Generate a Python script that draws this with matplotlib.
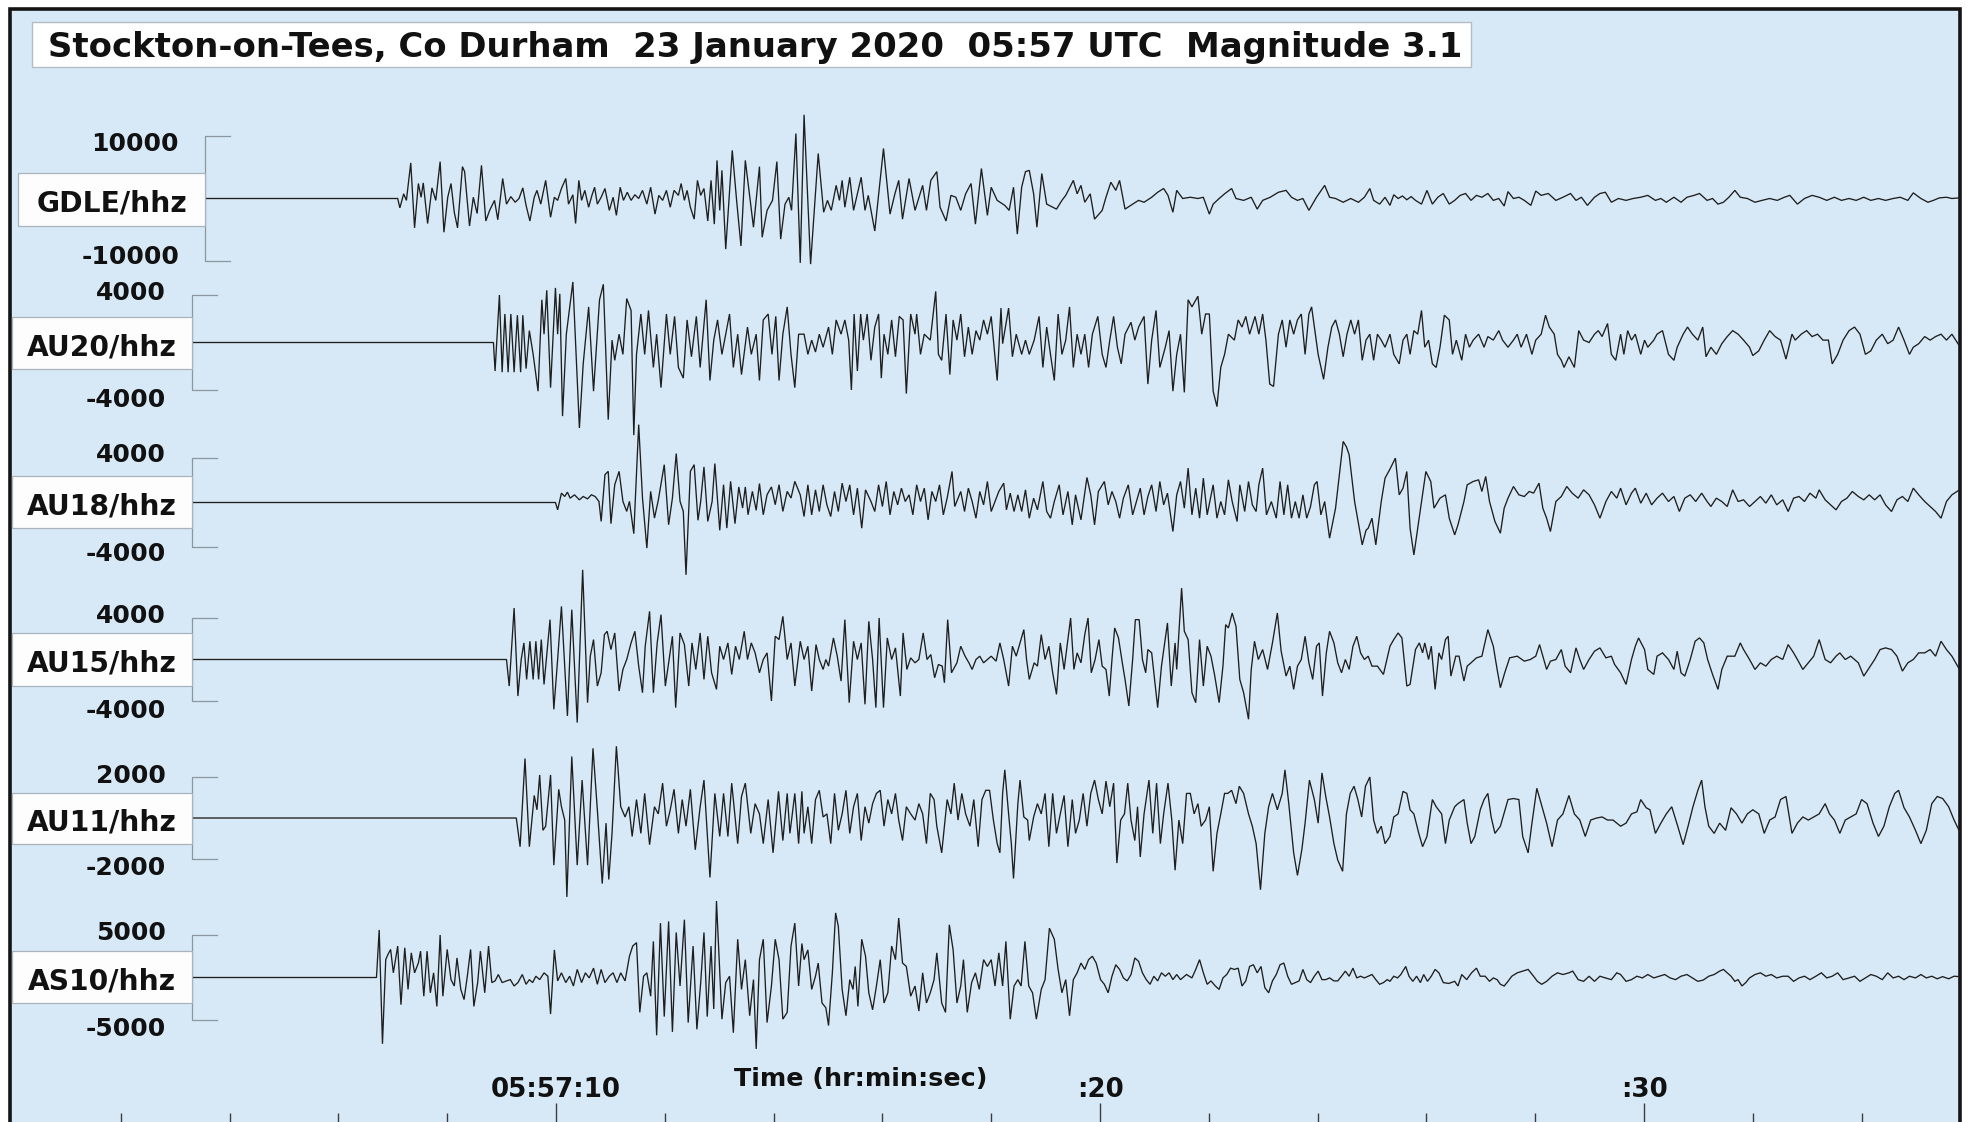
import matplotlib
matplotlib.use("Agg")
import matplotlib.pyplot as plt
from matplotlib.patches import Rectangle

plt.rcParams['font.family'] = ['DejaVu Sans']

# ---------------------------------------------------------------- data
TITLE = "Stockton-on-Tees, Co Durham  23 January 2020  05:57 UTC  Magnitude 3.1"
STATIONS = ["GDLE/hhz", "AU20/hhz", "AU18/hhz", "AU15/hhz", "AU11/hhz", "AS10/hhz"]
SCALES = [10000, 4000, 4000, 4000, 2000, 5000]
MAJOR_TICKS = [10, 20, 30]
MAJOR_TICK_LABELS = ["05:57:10", ":20", ":30"]
MINOR_TICKS = [2, 4, 6, 8, 12, 14, 16, 18, 22, 24, 26, 28, 32, 34]
X_LABEL = "Time (hr:min:sec)"

# (seconds after 05:57:00, counts)
GDLE = [(3.55, 0), (7.09, 0), (7.13, -1500), (7.20, 750), (7.25, -300), (7.33, 5700), (7.40, -4700),
        (7.47, 2400), (7.52, 200), (7.56, 2500), (7.64, -4000), (7.72, 1700), (7.79, -300), (7.87, 5900),
        (7.94, -5400), (8.01, 200), (8.07, 2400), (8.13, -2200), (8.19, -4700), (8.28, 5100), (8.32, 4300),
        (8.41, -4400), (8.48, 200), (8.55, -2400), (8.63, 5300), (8.71, -3600), (8.78, -1900), (8.87, -300),
        (8.93, -3400), (9.02, 3200), (9.09, -900), (9.17, 300), (9.25, -600), (9.32, 0), (9.39, 1700),
        (9.45, -1100), (9.52, -3600), (9.60, 200), (9.65, 1300), (9.72, -900), (9.81, 2900), (9.90, -3000),
        (9.97, 200), (10.03, -300), (10.10, 1600), (10.18, 3200), (10.23, -900), (10.31, 600), (10.36, -4000),
        (10.42, 2900), (10.47, -300), (10.53, 1300), (10.60, -1400), (10.66, 500), (10.71, 1800), (10.76, -900),
        (10.83, 200), (10.90, 1600), (10.98, -1900), (11.05, 200), (11.11, -2700), (11.18, 1800), (11.24, -300),
        (11.31, 1000), (11.38, -300), (11.45, 600), (11.52, 0), (11.59, 1300), (11.67, -900), (11.74, 1800),
        (11.82, -2500), (11.89, 500), (11.96, -300), (12.03, 1300), (12.10, -1400), (12.17, 1300), (12.25, 500),
        (12.30, 2400), (12.36, -300), (12.41, 1300), (12.47, -1400), (12.54, -3300), (12.60, 2900), (12.66, 500),
        (12.72, 1600), (12.79, -3600), (12.85, 2900), (12.91, -4100), (12.96, 6100), (13.01, -1900), (13.05, 4500),
        (13.12, -8100), (13.24, 7700), (13.32, -300), (13.40, -7600), (13.48, 6100), (13.57, -300), (13.63, -4600),
        (13.74, 5100), (13.79, -6200), (13.88, -1900), (13.98, -300), (14.06, 5900), (14.13, -6500), (14.21, -900),
        (14.28, 200), (14.33, -1900), (14.41, 10400), (14.49, -10300), (14.56, 13400), (14.68, -10500),
        (14.82, 7200), (14.92, -2200), (14.99, -300), (15.06, -1900), (15.15, 2100), (15.21, -300), (15.26, 2900),
        (15.31, -1400), (15.40, 3400), (15.47, -1900), (15.61, 3400), (15.68, -1900), (15.74, 500), (15.86, -5200),
        (16.02, 8000), (16.14, -2500), (16.23, 750), (16.30, 2900), (16.37, -3300), (16.49, 3200), (16.60, -1900),
        (16.74, 2100), (16.81, -1900), (16.89, 2900), (17.00, 4300), (17.06, -1400), (17.17, -3600), (17.26, 500),
        (17.35, 200), (17.44, -1900), (17.53, 750), (17.63, 2400), (17.71, -4100), (17.82, 4800), (17.93, -2700),
        (18.00, 1800), (18.11, -300), (18.25, -1100), (18.33, -1900), (18.41, 1800), (18.48, -5700), (18.56, 1800),
        (18.63, 4300), (18.70, 4500), (18.78, 750), (18.84, -4600), (18.93, 4000), (19.02, -900), (19.13, -1400),
        (19.20, -1700), (19.30, -300), (19.37, 500), (19.51, 2900), (19.58, 750), (19.65, 2100), (19.72, -600),
        (19.82, 750), (19.90, -3300), (20.04, -1900), (20.11, 200), (20.20, 2600), (20.29, 1300), (20.36, 2900),
        (20.46, -1700), (20.60, -900), (20.71, -300), (20.81, -600), (20.95, 200), (21.06, 1000), (21.17, 1600),
        (21.25, 500), (21.34, -2200), (21.41, 1300), (21.52, 0), (21.66, 200), (21.80, 0), (21.90, 200),
        (22.01, -2500), (22.08, -900), (22.19, 0), (22.29, 750), (22.42, 1600), (22.50, 0), (22.64, -300),
        (22.78, 200), (22.89, -1700), (22.99, -300), (23.13, 200), (23.28, 1000), (23.42, 1300), (23.52, 200),
        (23.63, -300), (23.73, 0), (23.84, -1900), (23.98, 200), (24.13, 2100), (24.22, 200), (24.33, 0),
        (24.47, -600), (24.61, 0), (24.75, -600), (24.86, 200), (24.96, 1600), (25.03, -300), (25.14, -900),
        (25.24, 200), (25.33, -1100), (25.40, 600), (25.48, 0), (25.56, 400), (25.64, -200), (25.72, 300),
        (25.80, -300), (25.91, -900), (26.01, 1300), (26.11, -900), (26.21, 200), (26.31, 800), (26.42, -900),
        (26.52, -300), (26.62, 500), (26.72, 800), (26.82, -300), (26.92, 500), (27.02, 200), (27.13, 800),
        (27.23, -300), (27.33, 0), (27.43, -1200), (27.50, 1100), (27.60, 0), (27.70, 200), (27.80, -300),
        (27.92, -1100), (28.01, 1200), (28.11, 500), (28.24, 800), (28.38, -300), (28.51, 200), (28.65, 800),
        (28.75, -300), (28.85, 200), (28.96, -1100), (29.09, 200), (29.19, 800), (29.29, 1000), (29.40, -600),
        (29.53, 0), (29.67, -300), (29.80, 0), (29.94, 200), (30.07, 500), (30.21, -300), (30.31, 0),
        (30.41, -600), (30.55, 200), (30.68, -600), (30.79, 200), (30.92, 500), (31.02, 800), (31.16, -300),
        (31.26, 0), (31.36, -900), (31.46, -600), (31.56, 200), (31.67, 1300), (31.77, 200), (31.90, 0),
        (32.04, -600), (32.17, -300), (32.31, 0), (32.45, -300), (32.58, 200), (32.68, 500), (32.82, -900),
        (32.95, 0), (33.09, 500), (33.22, 200), (33.36, -300), (33.50, 200), (33.63, -300), (33.77, 0),
        (33.90, -300), (34.04, 200), (34.17, -300), (34.31, 0), (34.44, -300), (34.58, 0), (34.71, 200),
        (34.85, -300), (34.95, 900), (35.09, 0), (35.22, -600), (35.32, -300), (35.43, 100), (35.56, 200),
        (35.66, 0), (35.80, 100)]

AU20 = [(3.31, 0), (8.85, 0), (8.88, -2400), (8.96, 4000), (9.01, -2500), (9.06, 2400), (9.12, -2500),
        (9.17, 2400), (9.23, -2500), (9.29, 2300), (9.35, -2500), (9.39, 2300), (9.45, -2200), (9.51, 1000),
        (9.58, -1000), (9.67, -4100), (9.74, 3600), (9.78, 700), (9.83, 4400), (9.90, -3800), (9.99, 4600),
        (10.03, 700), (10.07, 4100), (10.12, -6200), (10.19, 700), (10.31, 5100), (10.43, -7200), (10.50, -1800),
        (10.60, 3000), (10.69, -4100), (10.80, 3600), (10.87, 4900), (10.96, -6500), (11.03, 200), (11.08, -1500),
        (11.16, 700), (11.23, -1000), (11.30, 3700), (11.38, 2700), (11.43, -7800), (11.48, -1000), (11.56, 2400),
        (11.63, -1000), (11.70, 2700), (11.79, -2100), (11.85, 700), (11.93, -3800), (12.03, 2400), (12.10, -1000),
        (12.18, 2200), (12.25, -2100), (12.34, -3000), (12.41, 1900), (12.49, -1200), (12.58, 2200),
        (12.65, -2100), (12.76, 3600), (12.83, -3200), (12.90, 200), (12.97, 1900), (13.05, -1000), (13.12, 700),
        (13.19, 2400), (13.26, -2100), (13.34, 700), (13.41, -2700), (13.52, 1300), (13.59, -1000), (13.68, 700),
        (13.74, -3200), (13.81, 1900), (13.90, 2400), (13.97, -1000), (14.04, 2200), (14.10, -3200), (14.17, 700),
        (14.25, 3000), (14.32, -1000), (14.39, -3800), (14.46, 700), (14.56, 700), (14.63, -1000), (14.70, 200),
        (14.77, -800), (14.84, 700), (14.91, -400), (15.01, 1300), (15.08, -1000), (15.15, 1900), (15.24, 700),
        (15.31, 1900), (15.38, 200), (15.43, -4000), (15.48, 2400), (15.54, -2400), (15.60, 2400), (15.65, 200),
        (15.72, 2400), (15.79, -1500), (15.86, 1300), (15.93, 2400), (15.98, -3000), (16.03, 700), (16.10, -1000),
        (16.17, 1900), (16.24, -1200), (16.31, 2200), (16.38, 1900), (16.44, -4300), (16.52, 2400), (16.60, 700),
        (16.63, 2400), (16.70, -1000), (16.77, 700), (16.88, 200), (16.98, 4300), (17.03, -1000), (17.09, -1500),
        (17.17, 2400), (17.24, -2700), (17.30, 1900), (17.37, 200), (17.44, 2400), (17.51, -1200), (17.58, 1300),
        (17.65, -1000), (17.72, 1000), (17.79, 200), (17.86, 1900), (17.93, 700), (18.00, 2200), (18.11, -3200),
        (18.18, 2900), (18.21, -100), (18.32, 2900), (18.39, -1200), (18.46, 700), (18.56, -1000), (18.63, 200),
        (18.70, -1000), (18.79, 200), (18.88, 2200), (18.95, -2100), (19.02, 1300), (19.09, -1000), (19.16, -3200),
        (19.23, 2400), (19.30, -1000), (19.37, 200), (19.44, 3000), (19.51, -2100), (19.58, 700), (19.65, -1000),
        (19.72, 700), (19.79, -2100), (19.86, 700), (19.96, 2200), (20.04, -1000), (20.11, -2100), (20.18, 200),
        (20.25, 2200), (20.32, -400), (20.39, -1800), (20.46, 700), (20.57, 1700), (20.64, 200), (20.71, 1300),
        (20.81, 2200), (20.88, -3500), (20.95, 200), (21.03, 2700), (21.10, -2100), (21.20, -400), (21.27, 1000),
        (21.34, -4100), (21.41, -1000), (21.48, 700), (21.55, -4200), (21.62, 3600), (21.69, 3000), (21.80, 3900),
        (21.87, 700), (21.94, 2400), (22.01, 2400), (22.08, -4100), (22.15, -5400), (22.22, -2100), (22.29, -1000),
        (22.36, 700), (22.47, 200), (22.54, 1900), (22.61, 1300), (22.68, 2200), (22.75, 700), (22.85, 2200),
        (22.92, 700), (22.99, 2400), (23.05, 200), (23.12, -3500), (23.19, -3700), (23.28, 700), (23.35, 1900),
        (23.42, -400), (23.49, 1900), (23.56, 700), (23.63, 1900), (23.70, 2400), (23.77, -1000), (23.84, 2400),
        (23.89, 3000), (23.96, 700), (24.01, -1000), (24.11, -3100), (24.19, -400), (24.26, 1300), (24.33, 1900),
        (24.40, 700), (24.47, -1200), (24.54, 700), (24.61, 1900), (24.68, 700), (24.75, 1900), (24.82, -1500),
        (24.89, 200), (24.96, 700), (25.03, -1500), (25.10, 700), (25.17, 200), (25.24, -400), (25.33, 700),
        (25.40, -1000), (25.50, -1800), (25.57, 200), (25.64, 700), (25.70, -1000), (25.77, 1000), (25.84, 700),
        (25.91, 2700), (25.97, -400), (26.04, 200), (26.11, -1800), (26.18, -2100), (26.25, -400), (26.33, 2300),
        (26.42, 1900), (26.48, -1000), (26.55, 200), (26.65, -1500), (26.72, 700), (26.79, -400), (26.86, 200),
        (26.96, 700), (27.06, -400), (27.13, 500), (27.23, 200), (27.33, 1000), (27.40, 200), (27.50, -400),
        (27.60, 200), (27.67, 700), (27.74, -400), (27.84, 700), (27.94, -1000), (28.01, 200), (28.11, 700),
        (28.19, 2300), (28.26, 1300), (28.35, 700), (28.41, -1000), (28.48, -1500), (28.53, -2100), (28.62, -1200),
        (28.72, -2100), (28.80, 1000), (28.89, 200), (28.99, 0), (29.09, 700), (29.16, 1000), (29.23, 500),
        (29.33, 1600), (29.40, -1000), (29.48, -1500), (29.57, 700), (29.63, -1000), (29.70, 1000), (29.77, 200),
        (29.84, 700), (29.94, -1000), (30.01, 200), (30.07, -400), (30.18, 200), (30.24, 700), (30.34, 1000),
        (30.45, -1000), (30.55, -1500), (30.61, -400), (30.72, 700), (30.80, 1300), (30.89, 700), (30.99, 200),
        (31.08, 1300), (31.14, -1200), (31.23, -400), (31.33, -1000), (31.43, -100), (31.53, 500), (31.63, 1000),
        (31.73, 700), (31.83, 200), (31.94, -400), (32.00, -1100), (32.11, -700), (32.21, 200), (32.31, 1000),
        (32.41, 500), (32.51, 200), (32.61, -1400), (32.72, 700), (32.78, 200), (32.89, 700), (32.99, 1000),
        (33.09, 500), (33.19, 700), (33.29, 200), (33.39, 200), (33.46, -1800), (33.56, -1000), (33.66, 200),
        (33.77, 1000), (33.87, 1300), (33.97, 700), (34.07, -1000), (34.17, -700), (34.27, 200), (34.38, 700),
        (34.48, -100), (34.58, 200), (34.68, 1300), (34.78, 200), (34.88, -1000), (34.95, -400), (35.05, -100),
        (35.16, 500), (35.26, 200), (35.36, 500), (35.46, 700), (35.56, 200), (35.66, 700), (35.80, -300)]

AU18 = [(3.31, 0), (9.99, 0), (10.03, -660), (10.10, 840), (10.16, 540), (10.21, 930), (10.26, 390),
        (10.34, 690), (10.43, 240), (10.50, 540), (10.58, 330), (10.65, 690), (10.72, 540), (10.79, 90),
        (10.83, -1700), (10.90, 2500), (10.96, 2800), (11.01, -1900), (11.08, 1600), (11.16, 2800), (11.23, 100),
        (11.30, -800), (11.35, 100), (11.43, -2800), (11.52, 7000), (11.59, 400), (11.67, -4100), (11.74, 1000),
        (11.81, -1400), (11.88, 200), (11.99, 3400), (12.07, -2000), (12.14, 400), (12.21, 4400), (12.28, 100),
        (12.34, -800), (12.39, -6500), (12.47, 2800), (12.54, 3400), (12.61, -1600), (12.66, 100), (12.72, 3200),
        (12.79, -1700), (12.87, 100), (12.92, 3500), (13.01, -2500), (13.08, 1600), (13.14, -2300), (13.21, 1900),
        (13.29, -1900), (13.36, 1400), (13.43, -500), (13.48, 1400), (13.53, -1100), (13.61, 1000), (13.68, -700),
        (13.74, 1700), (13.81, -1100), (13.88, 700), (13.96, 1400), (14.03, -200), (14.10, 1600), (14.17, -800),
        (14.25, 1000), (14.32, 400), (14.39, 1900), (14.49, 690), (14.56, -1260), (14.63, 1590), (14.70, -1110),
        (14.77, 1140), (14.84, -810), (14.91, 1590), (14.98, -210), (15.05, -1260), (15.12, 990), (15.19, -810),
        (15.26, 1740), (15.33, 90), (15.40, 1590), (15.47, -1110), (15.54, 1290), (15.62, -2310), (15.69, 1140),
        (15.79, 90), (15.86, -810), (15.93, 1590), (16.00, -360), (16.07, 1890), (16.14, -1110), (16.21, 990),
        (16.28, -210), (16.35, 1290), (16.42, 90), (16.49, 690), (16.56, -1110), (16.63, 1590), (16.70, 90),
        (16.77, 1290), (16.84, -1560), (16.91, 990), (16.98, 90), (17.05, 1590), (17.12, -1110), (17.19, 390),
        (17.28, 2790), (17.33, -360), (17.44, 990), (17.51, -810), (17.58, 1290), (17.65, 90), (17.72, -1410),
        (17.79, 990), (17.86, -210), (17.93, 1890), (18.00, -810), (18.07, 90), (18.14, 990), (18.23, 1740),
        (18.28, -660), (18.35, 840), (18.42, -810), (18.49, 690), (18.56, -810), (18.63, 1140), (18.70, -1410),
        (18.78, 390), (18.85, -660), (18.95, 1890), (19.02, -810), (19.09, -1410), (19.16, 90), (19.25, 1590),
        (19.32, -1110), (19.41, 990), (19.49, -2010), (19.55, 690), (19.65, -1560), (19.76, 2250), (19.83, 690),
        (19.90, -2010), (19.97, 990), (20.08, 1890), (20.15, -210), (20.22, 990), (20.29, 90), (20.36, -1410),
        (20.43, 390), (20.52, 1590), (20.60, -1110), (20.67, 90), (20.74, 1290), (20.81, -1110), (20.88, 540),
        (20.95, 1590), (21.03, -810), (21.10, 1890), (21.17, -210), (21.24, 840), (21.34, -2610), (21.41, 690),
        (21.48, 1890), (21.55, -510), (21.62, 3090), (21.69, -1110), (21.76, 1290), (21.83, -1410), (21.90, 2190),
        (21.97, -1110), (22.08, 1590), (22.15, -1410), (22.22, 90), (22.29, -1110), (22.36, 2040), (22.43, 90),
        (22.52, -1710), (22.57, 1590), (22.66, -810), (22.73, 1890), (22.80, -210), (22.87, -810), (22.92, 1590),
        (22.99, 3090), (23.06, -1110), (23.15, 90), (23.24, -1410), (23.31, 1890), (23.38, -1110), (23.45, 1590),
        (23.52, -1410), (23.59, 90), (23.66, -1410), (23.73, 690), (23.80, -1410), (23.87, -360), (23.94, 1590),
        (23.99, 1890), (24.06, -1110), (24.13, 90), (24.22, -3210), (24.33, -510), (24.47, 5490), (24.53, 5000),
        (24.58, 4290), (24.68, 90), (24.82, -3810), (24.89, -2500), (24.93, -2310), (25.00, -1410), (25.07, -3810),
        (25.17, 90), (25.24, 2190), (25.33, 3000), (25.43, 3990), (25.50, 690), (25.57, 1290), (25.64, 2790),
        (25.70, -2310), (25.77, -4710), (25.84, -2310), (25.91, 90), (25.99, 2790), (26.08, 1890), (26.14, -510),
        (26.25, 390), (26.35, 690), (26.42, -1410), (26.52, -2910), (26.58, -2010), (26.69, 90), (26.75, 1590),
        (26.86, 1890), (26.96, 2040), (27.02, 990), (27.09, 2340), (27.16, 90), (27.26, -1710), (27.36, -2760),
        (27.43, -510), (27.50, 390), (27.60, 1440), (27.70, 690), (27.80, 540), (27.89, 990), (27.97, 840),
        (28.07, 1740), (28.14, -510), (28.21, -1410), (28.28, -2610), (28.38, 90), (28.48, 540), (28.58, 1440),
        (28.68, 840), (28.79, 390), (28.89, 1140), (28.99, 690), (29.09, -210), (29.19, -1410), (29.30, 90),
        (29.40, 990), (29.50, 390), (29.57, 1290), (29.67, -210), (29.77, 840), (29.84, 1290), (29.94, -60),
        (30.04, 840), (30.14, -210), (30.24, 390), (30.34, 840), (30.45, 90), (30.55, 540), (30.65, -810),
        (30.75, 390), (30.85, 690), (30.95, 90), (31.06, 840), (31.16, 90), (31.23, -360), (31.33, 390),
        (31.43, 90), (31.53, -360), (31.63, 1140), (31.73, 90), (31.83, 240), (31.94, -360), (32.04, 90),
        (32.14, 540), (32.24, -60), (32.34, 690), (32.44, -210), (32.55, 240), (32.65, -810), (32.75, 390),
        (32.85, 540), (32.95, 90), (33.05, 840), (33.16, 390), (33.22, 1140), (33.33, 240), (33.43, -210),
        (33.53, -660), (33.63, 90), (33.73, 390), (33.83, 990), (33.94, 540), (34.04, 240), (34.14, 690),
        (34.24, 240), (34.34, 690), (34.44, -210), (34.55, -810), (34.65, 240), (34.75, 540), (34.85, 90),
        (34.95, 1290), (35.05, 690), (35.16, 90), (35.26, -360), (35.36, -810), (35.46, -1410), (35.56, 90),
        (35.66, 690), (35.80, 1140)]

AU15 = [(3.31, 0), (9.09, 0), (9.14, -2560), (9.23, 4960), (9.30, -3520), (9.36, 0), (9.41, 1600),
        (9.46, -1920), (9.52, 1760), (9.58, -1920), (9.63, 1760), (9.68, -1920), (9.73, 1920), (9.78, -2400),
        (9.89, 3840), (9.96, -4800), (10.03, 0), (10.10, 5120), (10.21, -5440), (10.29, 4800), (10.39, -6080),
        (10.49, 8640), (10.58, -4160), (10.63, 320), (10.69, 1920), (10.76, -2560), (10.83, -1280), (10.89, 2400),
        (10.94, 2720), (11.01, 960), (11.08, 2560), (11.16, -3040), (11.23, -960), (11.30, 0), (11.38, 1600),
        (11.45, 2720), (11.52, -640), (11.59, -3200), (11.64, 1280), (11.72, 4640), (11.79, -3200), (11.86, 1600),
        (11.93, 4320), (12.01, -2560), (12.08, 0), (12.14, 2240), (12.20, -4640), (12.28, 2560), (12.36, 1440),
        (12.44, -2560), (12.50, 1600), (12.57, -960), (12.65, 2560), (12.72, -1920), (12.79, 2240), (12.86, -1280),
        (12.95, -2880), (13.01, 1280), (13.08, 0), (13.16, 1600), (13.23, -1440), (13.30, 1280), (13.37, 0),
        (13.46, 2720), (13.52, 0), (13.59, 1600), (13.66, 640), (13.74, -1280), (13.81, 0), (13.88, 640),
        (13.96, -4000), (14.03, 2240), (14.10, 1920), (14.17, 4160), (14.25, 0), (14.32, 1600), (14.39, -2560),
        (14.49, 1760), (14.56, 0), (14.63, 1280), (14.70, -3040), (14.78, 1440), (14.84, 0), (14.91, -960),
        (14.96, 0), (15.01, -640), (15.10, 2080), (15.17, 320), (15.24, -2080), (15.31, 3840), (15.39, -4160),
        (15.47, 1760), (15.54, 0), (15.61, 1600), (15.68, -4320), (15.75, 3680), (15.82, 0), (15.88, -4640),
        (15.94, 4000), (16.02, -4640), (16.09, 2080), (16.17, 0), (16.24, 1120), (16.33, -3520), (16.38, 2560),
        (16.45, -960), (16.52, 160), (16.60, -320), (16.67, 0), (16.75, 2560), (16.82, 0), (16.89, 480),
        (16.96, -1760), (17.03, -480), (17.10, -640), (17.14, -2240), (17.20, 3840), (17.27, -1280), (17.37, -320),
        (17.44, 1280), (17.52, 320), (17.59, -320), (17.65, -960), (17.72, 0), (17.79, 320), (17.86, -320),
        (17.93, 0), (18.00, 320), (18.09, -160), (18.16, 1600), (18.23, 0), (18.32, -2560), (18.39, 1280),
        (18.46, 320), (18.53, 1600), (18.60, 2880), (18.65, 0), (18.70, -1920), (18.79, -320), (18.85, -640),
        (18.92, 2400), (18.99, 0), (19.06, 1280), (19.13, -1280), (19.20, -3360), (19.27, 1600), (19.34, -960),
        (19.41, 1920), (19.46, 4000), (19.52, -960), (19.58, 640), (19.65, -320), (19.72, 2400), (19.78, 4000),
        (19.84, -1280), (19.91, 0), (19.98, 1920), (20.04, -640), (20.11, -960), (20.17, -3520), (20.22, 0),
        (20.27, 3040), (20.34, 2080), (20.41, -320), (20.46, -1920), (20.53, -4480), (20.60, 0), (20.65, 3840),
        (20.72, 3840), (20.78, 0), (20.84, -1280), (20.88, 960), (20.95, 640), (21.06, -4640), (21.13, -640),
        (21.24, 3520), (21.31, -2560), (21.38, 1600), (21.41, -960), (21.50, 6880), (21.55, 2720), (21.62, 1920),
        (21.69, -3200), (21.76, -4160), (21.83, 1920), (21.90, -2560), (21.97, 1280), (22.04, 320), (22.11, -1600),
        (22.19, -4160), (22.26, -640), (22.31, 3360), (22.36, 3040), (22.43, 4480), (22.50, 3200), (22.57, -1920),
        (22.64, -3200), (22.73, -5760), (22.78, -960), (22.84, 1760), (22.91, 0), (22.99, 960), (23.08, -960),
        (23.17, 1600), (23.26, 4480), (23.33, 800), (23.42, -1600), (23.49, -640), (23.56, -2880), (23.63, -640),
        (23.70, 0), (23.77, 2240), (23.84, -320), (23.91, -1920), (23.98, 1280), (24.03, 1600), (24.09, -3520),
        (24.16, 640), (24.22, 2720), (24.30, 1600), (24.37, -320), (24.44, -1280), (24.51, 0), (24.58, -960),
        (24.65, 1280), (24.72, 2240), (24.79, 640), (24.86, 0), (24.93, 320), (25.00, -640), (25.10, -640),
        (25.21, -1440), (25.33, 1280), (25.40, 1920), (25.48, 2560), (25.55, 2080), (25.64, -2560), (25.70, -2400),
        (25.80, 960), (25.87, 1600), (25.93, 640), (25.97, 1600), (26.04, 0), (26.09, 1280), (26.16, -2880),
        (26.23, 640), (26.28, 0), (26.35, 1920), (26.40, 2240), (26.45, -1600), (26.54, 320), (26.60, 320),
        (26.69, -2080), (26.75, -640), (26.82, -320), (26.92, 160), (27.02, 320), (27.13, 2880), (27.23, 1280),
        (27.30, -960), (27.36, -2720), (27.44, -1280), (27.53, 160), (27.67, 320), (27.80, -160), (27.91, 0),
        (28.01, 320), (28.08, 1440), (28.14, 320), (28.21, -960), (28.28, -160), (28.38, 0), (28.48, 960),
        (28.55, -640), (28.65, -1280), (28.75, 1120), (28.82, 0), (28.89, -960), (28.99, 0), (29.09, 800),
        (29.19, 1120), (29.30, 160), (29.40, 320), (29.46, -480), (29.57, -1280), (29.67, -2400), (29.77, 0),
        (29.84, 1280), (29.90, 2080), (30.01, 960), (30.07, -960), (30.18, -1440), (30.24, 320), (30.34, 640),
        (30.45, 0), (30.55, -960), (30.61, 800), (30.68, -1280), (30.75, -1600), (30.85, 0), (30.94, 1760),
        (31.02, 2080), (31.10, 1600), (31.17, 0), (31.26, -1440), (31.36, -2880), (31.43, -960), (31.53, 320),
        (31.67, 320), (31.77, 1600), (31.83, 960), (31.94, 0), (32.04, -960), (32.14, -320), (32.24, -640),
        (32.34, 0), (32.44, 320), (32.55, 0), (32.65, 1440), (32.75, 640), (32.82, 0), (32.92, -960),
        (33.02, -320), (33.12, 320), (33.22, 1920), (33.33, 0), (33.43, -320), (33.53, 320), (33.60, 640),
        (33.70, 0), (33.80, 320), (33.94, -320), (34.04, -1600), (34.14, -800), (34.24, 0), (34.34, 960),
        (34.44, 1120), (34.55, 960), (34.65, 320), (34.75, -1120), (34.85, -320), (34.95, 0), (35.05, 640),
        (35.16, 640), (35.26, 960), (35.36, 320), (35.46, 1760), (35.56, 960), (35.66, 320), (35.80, -960)]

AU11 = [(3.31, 0), (9.27, 0), (9.34, -1400), (9.43, 2900), (9.51, -1400), (9.60, 1100), (9.65, 400),
        (9.70, 2100), (9.76, -600), (9.81, -400), (9.90, 2100), (9.96, -2300), (10.05, 1400), (10.10, 550),
        (10.16, -100), (10.20, -3850), (10.29, 3000), (10.39, -2300), (10.48, 1850), (10.58, -2300), (10.68, 3400),
        (10.76, 400), (10.85, -3200), (10.92, -250), (10.97, -3000), (11.03, -750), (11.11, 3500), (11.19, 550),
        (11.27, 50), (11.34, 550), (11.40, -900), (11.48, 900), (11.56, -750), (11.63, 1200), (11.72, -1300),
        (11.81, 550), (11.88, 200), (11.96, 1700), (12.03, -400), (12.10, 400), (12.17, 1400), (12.25, -750),
        (12.32, 900), (12.39, -400), (12.47, 1400), (12.56, -1550), (12.65, 550), (12.72, 1850), (12.83, -2900),
        (12.92, 1200), (13.01, -900), (13.08, 1200), (13.16, -900), (13.23, 1700), (13.34, -1250), (13.41, 1050),
        (13.48, 1700), (13.58, -750), (13.66, 700), (13.74, 200), (13.81, -1250), (13.90, 900), (13.99, -1700),
        (14.09, 1300), (14.17, -1100), (14.25, 1200), (14.30, -750), (14.39, 1200), (14.46, -1250), (14.52, 1300),
        (14.56, -750), (14.63, 550), (14.70, -1250), (14.77, 900), (14.84, 1350), (14.91, 50), (14.98, 200),
        (15.05, -1250), (15.12, 1200), (15.19, -600), (15.26, 200), (15.33, 1350), (15.40, -750), (15.47, 550),
        (15.54, 1200), (15.61, -1100), (15.68, 550), (15.75, -250), (15.82, 700), (15.89, 1200), (15.96, 1350),
        (16.03, -400), (16.10, 900), (16.17, 200), (16.24, 1200), (16.30, -100), (16.37, -1100), (16.44, 550),
        (16.52, 200), (16.60, -100), (16.67, 700), (16.74, 200), (16.81, -1250), (16.88, 1200), (16.95, 900),
        (17.00, -400), (17.09, -1700), (17.19, 900), (17.26, 200), (17.32, 1700), (17.39, -100), (17.46, 1200),
        (17.53, 200), (17.61, -400), (17.68, 900), (17.76, -1400), (17.83, 900), (17.90, 1350), (17.97, 1350),
        (18.04, -100), (18.11, -1250), (18.16, -1700), (18.21, 1200), (18.25, 2350), (18.32, 200), (18.37, -1250),
        (18.41, -2950), (18.49, 700), (18.53, 1850), (18.60, 50), (18.67, -100), (18.70, -1100), (18.78, 50),
        (18.85, 700), (18.92, 200), (18.99, 1200), (19.06, -1400), (19.13, 1200), (19.20, -750), (19.27, 200),
        (19.34, 1100), (19.41, -1400), (19.49, 900), (19.55, -750), (19.62, -100), (19.69, 1200), (19.76, -400),
        (19.83, 1200), (19.90, 1850), (19.97, 900), (20.04, 200), (20.11, 1800), (20.18, 550), (20.25, 1700),
        (20.31, -2200), (20.38, -100), (20.45, 200), (20.51, 1700), (20.57, -100), (20.64, -1100), (20.69, 550),
        (20.74, -1900), (20.81, 200), (20.90, 1850), (20.97, -750), (21.04, 1700), (21.11, -1250), (21.17, 200),
        (21.25, 1700), (21.32, -100), (21.38, -2550), (21.45, -100), (21.52, -1250), (21.59, 1200), (21.66, 1200),
        (21.73, 200), (21.80, 700), (21.86, -400), (21.94, -100), (22.01, 550), (22.08, -2600), (22.15, -750),
        (22.22, 200), (22.29, 1200), (22.35, 1200), (22.42, 1350), (22.50, 700), (22.56, 1550), (22.64, 1200),
        (22.73, 200), (22.80, -400), (22.87, -1250), (22.95, -3500), (23.03, -750), (23.10, 550), (23.17, 1200),
        (23.26, 400), (23.35, 1200), (23.40, 2350), (23.47, 700), (23.56, -1700), (23.63, -2800), (23.71, -1550),
        (23.77, -250), (23.85, 1850), (23.94, 900), (24.01, -250), (24.08, 2200), (24.15, 1050), (24.22, 50),
        (24.30, -1250), (24.37, -2050), (24.46, -2600), (24.53, 200), (24.60, 1200), (24.67, 1550), (24.74, 900),
        (24.81, 50), (24.88, 1550), (24.96, 2000), (25.03, -100), (25.10, -750), (25.17, -400), (25.24, -1250),
        (25.33, -900), (25.40, 50), (25.48, 200), (25.57, 1300), (25.64, 1200), (25.70, 400), (25.77, 200),
        (25.86, -750), (25.93, -1400), (26.01, -900), (26.11, 900), (26.18, 550), (26.28, 200), (26.35, -1250),
        (26.42, -100), (26.52, 550), (26.58, 700), (26.69, 900), (26.75, -250), (26.82, -1250), (26.89, -900),
        (26.99, 400), (27.06, 900), (27.13, 1200), (27.19, 50), (27.26, -750), (27.36, -400), (27.50, 900),
        (27.60, 950), (27.70, 900), (27.77, -900), (27.87, -1700), (27.94, -250), (28.03, 1450), (28.11, 700),
        (28.21, -250), (28.31, -1400), (28.41, -100), (28.51, 200), (28.62, 1100), (28.72, 200), (28.82, -100),
        (28.92, -900), (29.02, -100), (29.13, 0), (29.23, 50), (29.33, -100), (29.43, -100), (29.57, -400),
        (29.67, -250), (29.77, 200), (29.87, 300), (29.94, 900), (30.04, 500), (30.11, 400), (30.21, -750),
        (30.31, -250), (30.41, 200), (30.51, 550), (30.62, -400), (30.72, -1300), (30.81, -400), (30.90, 550),
        (30.99, 1350), (31.06, 1850), (31.12, 550), (31.19, -400), (31.29, -750), (31.39, -250), (31.50, -600),
        (31.60, 500), (31.70, 200), (31.80, -250), (31.90, 200), (32.00, 400), (32.11, 200), (32.21, -750),
        (32.31, -100), (32.41, 50), (32.51, 900), (32.61, 1050), (32.72, -750), (32.82, -250), (32.92, 50),
        (33.02, -100), (33.12, 50), (33.22, 200), (33.33, 700), (33.41, 200), (33.50, -100), (33.60, -750),
        (33.70, -100), (33.80, 50), (33.90, 200), (34.00, 900), (34.10, 700), (34.21, -250), (34.31, -900),
        (34.41, -400), (34.51, 550), (34.61, 1200), (34.68, 1350), (34.78, 500), (34.88, 50), (34.99, -600),
        (35.09, -1250), (35.19, -600), (35.29, 700), (35.39, 1050), (35.49, 950), (35.60, 550), (35.70, -100),
        (35.80, -650)]

AS10 = [(3.31, 0), (6.70, 0), (6.75, 5600), (6.81, -7800), (6.87, 2100), (6.91, 2700), (6.96, 3300),
        (7.01, 550), (7.09, 3700), (7.15, -3200), (7.22, 3500), (7.28, -1400), (7.34, 2900), (7.40, 550),
        (7.47, 1700), (7.51, 3100), (7.57, -2200), (7.63, 3100), (7.69, -1800), (7.75, 550), (7.81, -3400),
        (7.87, 5000), (7.92, -2200), (8.00, 3300), (8.07, -250), (8.13, -1000), (8.18, 2300), (8.25, -1400),
        (8.31, -2600), (8.37, 150), (8.43, 3300), (8.49, -3400), (8.56, -600), (8.61, 3100), (8.69, -1800),
        (8.76, 3700), (8.82, -600), (8.88, -400), (8.94, 350), (9.01, -600), (9.09, -400), (9.16, -250),
        (9.23, -1000), (9.30, -600), (9.38, 350), (9.45, -800), (9.51, -250), (9.57, -600), (9.63, 150),
        (9.70, -250), (9.78, 550), (9.85, 150), (9.90, -4300), (9.97, 3250), (10.03, -400), (10.10, 550),
        (10.18, -600), (10.25, 150), (10.32, -1000), (10.39, 950), (10.47, -600), (10.54, 550), (10.61, -50),
        (10.69, 1100), (10.76, -800), (10.83, 950), (10.90, -600), (10.98, 150), (11.05, 550), (11.12, -600),
        (11.19, 550), (11.27, -400), (11.35, 2500), (11.41, 3700), (11.48, 4100), (11.54, -4100), (11.61, 150),
        (11.67, 550), (11.74, -2200), (11.79, 4250), (11.85, -6800), (11.92, 6400), (11.99, -4600), (12.07, 6600),
        (12.14, -6400), (12.21, 5300), (12.28, -1000), (12.36, 6800), (12.43, -5300), (12.52, 3700), (12.59, -6100),
        (12.66, -600), (12.72, 5300), (12.78, -4600), (12.85, 3700), (12.90, -3700), (12.95, 9000), (13.05, -4900),
        (13.12, -600), (13.19, 150), (13.26, -6500), (13.34, 4500), (13.41, -1400), (13.48, 2100), (13.56, -4500),
        (13.63, -250), (13.68, -8400), (13.74, 2100), (13.81, 4500), (13.88, -5300), (13.96, -1000), (14.03, 4500),
        (14.10, 2100), (14.17, -4900), (14.25, -4100), (14.32, 3700), (14.39, 6400), (14.46, -1000), (14.52, 4000),
        (14.56, 2100), (14.63, 3250), (14.70, -1400), (14.77, 150), (14.82, 1700), (14.89, -3000), (14.96, -3550),
        (15.01, -5650), (15.08, 550), (15.14, 7600), (15.19, 6000), (15.26, -1400), (15.33, -4500), (15.40, -250),
        (15.46, -1400), (15.50, 1300), (15.55, -3400), (15.62, 4500), (15.69, 2500), (15.75, -1800), (15.82, -3800),
        (15.89, -1000), (15.96, 2100), (16.03, -3000), (16.10, -1800), (16.17, 3700), (16.24, 2100), (16.30, 7000),
        (16.37, 1700), (16.44, 1300), (16.52, -2200), (16.60, -1000), (16.67, -3950), (16.74, 550), (16.81, -3000),
        (16.88, -1800), (16.95, -250), (17.00, 2900), (17.09, -3000), (17.16, -4100), (17.23, 6200), (17.30, 3250),
        (17.37, -3000), (17.44, -1000), (17.49, 2100), (17.56, -4100), (17.64, -600), (17.71, 550), (17.78, -1400),
        (17.86, 2100), (17.93, 1300), (18.00, 2100), (18.07, -1000), (18.14, 2900), (18.21, -1000), (18.27, 4250),
        (18.35, -4900), (18.42, -1000), (18.49, -250), (18.55, -1000), (18.62, 4250), (18.69, -1000), (18.76, -1800),
        (18.83, -4900), (18.92, -1400), (18.99, -250), (19.07, 5800), (19.16, 4500), (19.23, 950), (19.30, -1800),
        (19.37, -250), (19.44, -4500), (19.51, -250), (19.58, 550), (19.65, 1700), (19.72, 950), (19.79, 2100),
        (19.86, 2500), (19.93, 1700), (20.01, -250), (20.08, -800), (20.15, -1800), (20.22, 150), (20.29, 1500),
        (20.36, 950), (20.43, -50), (20.50, -400), (20.57, 350), (20.64, 2300), (20.71, 1900), (20.78, 550),
        (20.85, -250), (20.92, -800), (20.99, 150), (21.06, -400), (21.13, 550), (21.20, 150), (21.27, 550),
        (21.34, -250), (21.41, 350), (21.48, -250), (21.59, 350), (21.69, -50), (21.76, 950), (21.83, 2100),
        (21.90, 550), (21.97, -800), (22.04, -400), (22.12, -1000), (22.19, -1400), (22.26, -50), (22.33, 350),
        (22.40, 1100), (22.47, 950), (22.54, 1100), (22.61, -1000), (22.68, -400), (22.75, 1300), (22.82, 1500),
        (22.89, 550), (22.96, 1300), (23.03, -1200), (23.10, -1800), (23.17, -400), (23.24, 350), (23.31, 1500),
        (23.38, 1700), (23.45, 150), (23.52, -800), (23.59, -600), (23.66, -400), (23.73, 950), (23.80, -250),
        (23.87, -600), (23.94, 150), (24.01, 750), (24.08, -250), (24.15, -250), (24.22, -50), (24.30, -400),
        (24.37, -400), (24.44, 150), (24.51, 750), (24.58, 150), (24.65, 1100), (24.72, -50), (24.79, 150),
        (24.86, -50), (24.93, 150), (25.00, 350), (25.07, -250), (25.14, -800), (25.21, -600), (25.28, -250),
        (25.33, -450), (25.40, 150), (25.47, -50), (25.53, 350), (25.62, 1300), (25.68, 150), (25.75, -450),
        (25.82, 150), (25.89, -600), (25.95, 350), (26.02, -450), (26.09, 150), (26.16, 950), (26.23, 550),
        (26.31, -600), (26.41, -700), (26.52, -450), (26.58, -1000), (26.65, 350), (26.74, -250), (26.83, 550),
        (26.92, 1100), (26.99, 150), (27.08, 150), (27.16, -450), (27.23, -50), (27.30, -250), (27.36, -800),
        (27.43, -1000), (27.50, -450), (27.57, 150), (27.67, 550), (27.77, 750), (27.87, 950), (27.97, 150),
        (28.04, -450), (28.12, -800), (28.21, -450), (28.31, 150), (28.41, 550), (28.51, 350), (28.62, 550),
        (28.69, 750), (28.79, -250), (28.89, -450), (28.99, 150), (29.09, -450), (29.19, 150), (29.29, -50),
        (29.40, -250), (29.50, 550), (29.57, 350), (29.67, -450), (29.77, -250), (29.87, 150), (29.97, -50),
        (30.07, 350), (30.18, -50), (30.28, 150), (30.38, 350), (30.48, -50), (30.58, -250), (30.68, 150),
        (30.79, 350), (30.89, -50), (30.99, -450), (31.09, -300), (31.19, 150), (31.29, 350), (31.39, 750),
        (31.46, 950), (31.53, 550), (31.60, 150), (31.67, -450), (31.73, -250), (31.80, -1000), (31.87, -600),
        (31.94, -50), (32.04, 350), (32.14, 550), (32.24, 150), (32.34, 350), (32.44, -50), (32.55, 150),
        (32.65, 150), (32.75, -450), (32.85, -50), (32.95, 150), (33.05, -250), (33.16, 150), (33.26, 550),
        (33.36, -50), (33.46, 150), (33.56, 550), (33.66, -250), (33.77, -50), (33.87, 150), (33.97, -450),
        (34.07, -50), (34.17, 350), (34.27, 150), (34.38, -250), (34.48, 550), (34.58, -50), (34.68, 150),
        (34.78, -250), (34.88, 150), (34.99, -50), (35.09, 350), (35.19, -50), (35.29, 150), (35.39, -150),
        (35.49, 100), (35.60, -150), (35.70, 150), (35.80, 100)]

TRACES = [GDLE, AU20, AU18, AU15, AU11, AS10]

# ---------------------------------------------------------------- layout
W, H, DPI = 1968, 1122, 100
X10, PXS = 556.0, 54.4                      # pixel of 05:57:10 and pixels per second
T_LEFT, T_RIGHT = 10 - X10 / PXS, 10 + (W - X10) / PXS
TICK_PX = [(136, 261), (295, 390), (458, 547), (618, 701), (777, 859), (935, 1020)]
SCALE_LABEL_Y = [(142, 255), (291, 398), (453, 552), (614, 709), (774, 866), (931, 1027)]
BOX_PX = [(18, 173, 226), (12, 317, 369), (12, 476, 528), (12, 633, 686), (12, 793, 844), (12, 951, 1003)]
BG = "#d7e9f6"
TRACE_C = "#1e1e1e"
BRACKET_C = "#8d979f"
BOX_EDGE = "#aab3bb"

fig = plt.figure(figsize=(W / DPI, H / DPI), dpi=DPI, facecolor="white")


def fx(px):
    return px / W


def fy(py):
    return 1 - py / H


def t2px(t):
    return X10 + (t - 10) * PXS


# panel with black frame (bottom edge runs off the image)
fig.add_artist(Rectangle((fx(10), fy(1150)), fx(1960) - fx(10), fy(9) - fy(1150),
                         transform=fig.transFigure, facecolor=BG, edgecolor="#141414",
                         linewidth=2.6, zorder=0))
# title box
fig.add_artist(Rectangle((fx(32), fy(67)), fx(1471) - fx(32), fy(22) - fy(67),
                         transform=fig.transFigure, facecolor="white", edgecolor="#b4bcc4",
                         linewidth=1.0, zorder=1))

texts = {}
texts["title"] = fig.text(fx(48), fy(57), TITLE, ha="left", va="baseline",
                          fontsize=20, fontweight="bold", color="#111111", zorder=5)

station_texts, scale_texts = [], []
for i, (tr, A, (ytop, ybot)) in enumerate(zip(TRACES, SCALES, TICK_PX)):
    ax = fig.add_axes([0, fy(ybot), 1, (ybot - ytop) / H])
    ax.set_xlim(T_LEFT, T_RIGHT)
    ax.set_ylim(-A, A)
    ax.axis("off")
    ax.patch.set_visible(False)
    t = [p[0] for p in tr]
    v = [p[1] for p in tr]
    ax.plot(t, v, color=TRACE_C, lw=0.95, clip_on=False, zorder=4, solid_joinstyle="miter")
    t0 = t[0]
    tl = 25 / PXS
    ax.plot([t0 + tl, t0, t0, t0 + tl], [A, A, -A, -A], color=BRACKET_C, lw=0.9,
            clip_on=False, zorder=3)

    bx = t2px(t0)
    left, btop, bbot = BOX_PX[i]
    fig.add_artist(Rectangle((fx(left), fy(bbot)), fx(bx) - fx(left), fy(btop) - fy(bbot),
                             transform=fig.transFigure, facecolor="#fdfdfd",
                             edgecolor=BOX_EDGE, linewidth=0.9, zorder=1))
    st = fig.text(fx((left + bx) / 2), fy((btop + bbot) / 2), STATIONS[i], ha="center",
                  va="baseline", fontsize=18, fontweight="bold", color="#111111", zorder=5)
    station_texts.append((st, (btop + bbot) / 2 + 2))
    ly_top, ly_bot = SCALE_LABEL_Y[i]
    for val, ly in ((A, ly_top), (-A, ly_bot)):
        s = fig.text(fx(bx - 26), fy(ly), str(val), ha="right", va="baseline",
                     fontsize=18, fontweight="bold", color="#111111", zorder=5)
        scale_texts.append((s, ly))

# time axis ticks along the bottom
axt = fig.add_axes([0, 0, 1, 20 / H])
axt.set_xlim(T_LEFT, T_RIGHT)
axt.set_ylim(0, 1)
axt.patch.set_visible(False)
for sp in axt.spines.values():
    sp.set_visible(False)
axt.set_yticks([])
axt.set_xticks(MAJOR_TICKS)
axt.set_xticks(MINOR_TICKS, minor=True)
axt.tick_params(axis="x", which="major", direction="in", length=14, width=1.0,
                color="#3c3c3c", labelbottom=False)
axt.tick_params(axis="x", which="minor", direction="in", length=6.8, width=1.0,
                color="#3c3c3c", labelbottom=False)

tick_texts = []
for tv, lab in zip(MAJOR_TICKS, MAJOR_TICK_LABELS):
    tt = fig.text(fx(t2px(tv)), fy(1097), lab, ha="center", va="baseline",
                  fontsize=18, fontweight="bold", color="#111111", zorder=5)
    tick_texts.append(tt)
xl = fig.text(fx(861), fy(1086), X_LABEL, ha="center", va="baseline",
              fontsize=16, fontweight="bold", color="#111111", zorder=5)

# ---- fit text sizes to the measured widths of the reference
fig.canvas.draw()
r = fig.canvas.get_renderer()


def width(tx):
    return tx.get_window_extent(r).width


def fit(tx, target):
    return tx.get_fontsize() * target / width(tx)


fs_title = fit(texts["title"], 1412)
texts["title"].set_fontsize(fs_title)

fs_st = fit(station_texts[1][0], 150)
for st, cy in station_texts:
    st.set_fontsize(fs_st)
    cap = 0.73 * fs_st * DPI / 72
    st.set_y(fy(cy + cap / 2))

fs_sc = fit(scale_texts[2][0], 70)
for s, cy in scale_texts:
    s.set_fontsize(fs_sc)
    cap = 0.73 * fs_sc * DPI / 72
    s.set_y(fy(cy + cap / 2))

fs_tk = fit(tick_texts[0], 130)
for tt in tick_texts:
    tt.set_fontsize(fs_tk)
xl.set_fontsize(fit(xl, 254))

fig.savefig("out.png", dpi=DPI, facecolor="white")
